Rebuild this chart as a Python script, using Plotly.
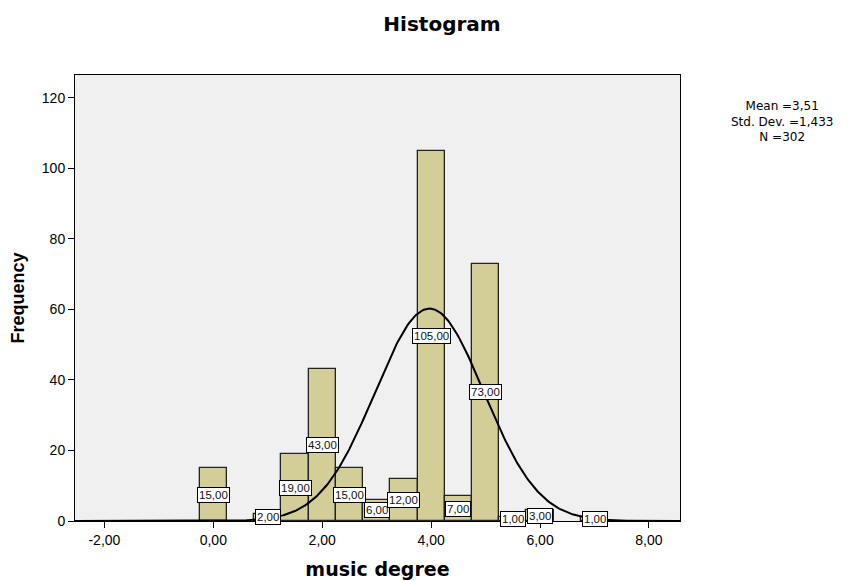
import numpy as np
import plotly.graph_objects as go

# Histogram bins (centers) and frequencies
bin_centers = [0.0, 1.0, 1.5, 2.0, 2.5, 3.0, 3.5, 4.0, 4.5, 5.0, 5.5, 6.0, 7.0]
frequencies = [15, 2, 19, 43, 15, 6, 12, 105, 7, 73, 1, 3, 1]
bin_width = 0.5

# Normal curve parameters (as drawn)
curve_mean = 3.97
curve_sd = 1.0
n_total = 302

x_tick_vals = [-2, 0, 2, 4, 6, 8]
x_tick_text = ["-2,00", "0,00", "2,00", "4,00", "6,00", "8,00"]
y_tick_vals = [0, 20, 40, 60, 80, 100, 120]

stats_lines = ["Mean =3,51", "Std. Dev. =1,433", "N =302"]

bar_color = "#D3CE97"
font_family = "Liberation Sans, Arial, sans-serif"
wide_family = "DejaVu Sans, Liberation Sans, sans-serif"

# page body has an 8px margin
W, H = 840, 573
PL, PT, PR, PB = 75, 75, 680, 521  # plot area in page pixels

fig = go.Figure()
fig.add_trace(go.Bar(
    x=bin_centers, y=frequencies, width=[bin_width] * len(bin_centers),
    marker=dict(color=bar_color, line=dict(color="#222222", width=1.3)),
    hoverinfo="skip", showlegend=False,
))

xs = np.linspace(-2.54, 8.57, 400)
ys = n_total * bin_width / (curve_sd * np.sqrt(2 * np.pi)) * np.exp(-0.5 * ((xs - curve_mean) / curve_sd) ** 2)
fig.add_trace(go.Scatter(x=xs, y=ys, mode="lines", line=dict(color="black", width=2),
                         hoverinfo="skip", showlegend=False))

annotations = []
for c, f in zip(bin_centers, frequencies):
    annotations.append(dict(
        x=c, y=f / 2, xref="x", yref="y", text=f"{f},00", showarrow=False,
        font=dict(family=font_family, size=11.5, color="#111111"),
        bgcolor="white", bordercolor="black", borderwidth=1, borderpad=1,
    ))
annotations.append(dict(
    x=(782 - PL) / (PR - PL), y=(PB - 122) / (PB - PT), xref="paper", yref="paper",
    text="<br>".join(stats_lines), showarrow=False, align="center",
    xanchor="center", yanchor="middle",
    font=dict(family=wide_family, size=12, color="black"),
))

fig.update_layout(
    width=W, height=H,
    margin=dict(l=PL - 8, r=848 - PR, t=PT - 8, b=581 - PB),
    paper_bgcolor="white", plot_bgcolor="#F0F0F0",
    bargap=0,
    title=dict(text="<b>Histogram</b>", x=(442 - 8) / W, xref="container", xanchor="center",
               y=1 - (24 - 8) / H, yanchor="middle",
               font=dict(family=wide_family, size=20, color="black")),
    xaxis=dict(range=[-2.54, 8.57], tickvals=x_tick_vals, ticktext=x_tick_text, automargin=False,
               showgrid=False, zeroline=False, showline=True, linecolor="black", linewidth=1,
               mirror=True, ticks="outside", ticklen=6, tickcolor="black",
               tickfont=dict(family=font_family, size=14, color="black"),
               title=dict(text="<b>music degree</b>", standoff=15,
                          font=dict(family=wide_family, size=19, color="black"))),
    yaxis=dict(range=[0, 126.5], tickvals=y_tick_vals, automargin=False,
               showgrid=False, zeroline=False, showline=True, linecolor="black", linewidth=1,
               mirror=True, ticks="outside", ticklen=6, tickcolor="black",
               tickfont=dict(family=font_family, size=14, color="black"),
               title=dict(text="<b>Frequency</b>", standoff=12,
                          font=dict(family=font_family, size=18, color="black"))),
    annotations=annotations,
)

fig.write_html("out.html")
